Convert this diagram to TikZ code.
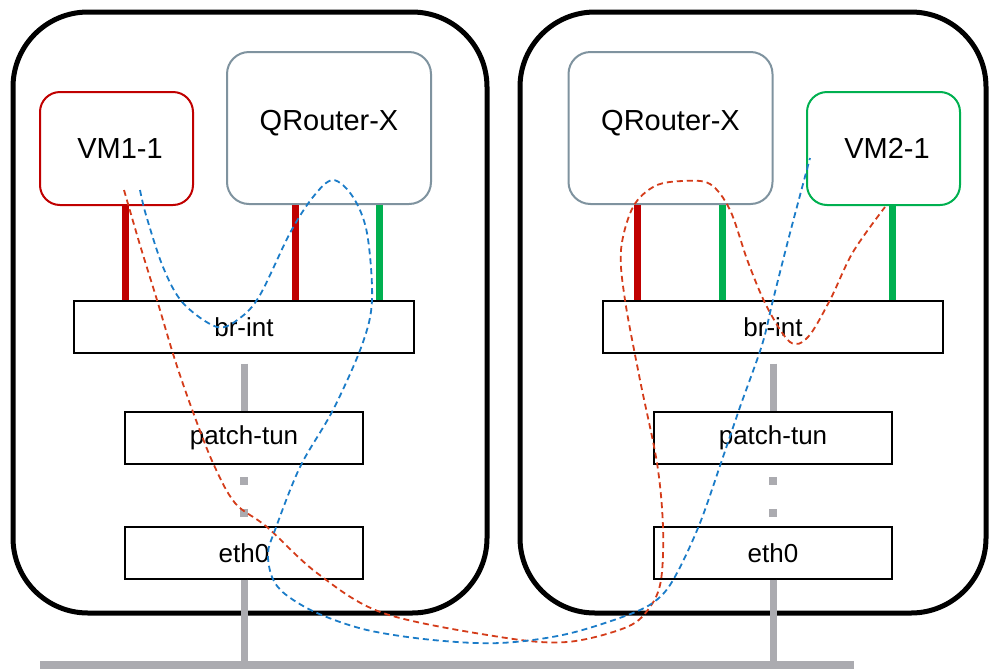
\documentclass[tikz,border=0pt]{standalone}
\usepackage{fontspec}
\setmainfont{Liberation Sans}
\begin{document}
\begin{tikzpicture}[x=1pt,y=-1pt,
  host/.style={draw=black,line width=5pt,rounded corners=75pt},
  vmbox/.style={draw,line width=2pt,rounded corners=20pt,fill=white,inner sep=0pt,
    minimum width=153pt,minimum height=113pt},
  rtbox/.style={draw=slate,line width=2pt,rounded corners=22pt,fill=white,inner sep=0pt,
    minimum width=204pt,minimum height=152pt},
  brbox/.style={draw=black,line width=1.3pt,fill=white,inner sep=0pt,
    minimum width=340pt,minimum height=52pt},
  portbox/.style={draw=black,line width=1.3pt,fill=white,inner sep=0pt,
    minimum width=238pt,minimum height=52pt},
  bigtxt/.style={font=\fontsize{29}{32}\selectfont},
  smalltxt/.style={font=\fontsize{26}{29}\selectfont},
  redbar/.style={draw=barred,line width=7pt},
  greenbar/.style={draw=bargreen,line width=7pt},
  graybar/.style={draw=wire,line width=7pt},
  dotsq/.style={fill=wire,minimum size=8pt,inner sep=0pt},
  redflow/.style={draw=flowred,line width=1.8pt,dash pattern=on 6pt off 4pt},
  blueflow/.style={draw=flowblue,line width=1.8pt,dash pattern=on 6pt off 4pt}]
\definecolor{slate}{HTML}{7F939F}
\definecolor{barred}{HTML}{C00000}
\definecolor{bargreen}{HTML}{00B050}
\definecolor{wire}{HTML}{ABABB0}
\definecolor{flowred}{HTML}{D43C1A}
\definecolor{flowblue}{HTML}{1B7CC8}
\useasboundingbox (0,0) rectangle (990,670);

% hosts
\draw[host] (13,12) rectangle (487,613);
\draw[host] (520,12) rectangle (986,613);

% shared network bus
\coordinate (busL) at (40,665);
\coordinate (busR) at (854,665);
\draw[graybar,line width=8pt] (busL) -- (busR);

% ---------- host 1 ----------
\node[vmbox,draw=barred] (vm1) at (116.5,148.5) {};
\node[bigtxt] at ([xshift=3.5pt]vm1.center) {VM1-1};
\node[rtbox] (qr1) at (329,128) {};
\node[bigtxt] at ([yshift=5pt]qr1.center) {QRouter-X};
\node[brbox] (br1) at (244,327) {};
\node[smalltxt] at (br1.center) {br-int};
\node[portbox] (pt1) at (244,438) {};
\node[smalltxt] at (pt1.center) {patch-tun};
\node[portbox] (eth1) at (244,553) {};
\node[smalltxt] at (eth1.center) {eth0};

\draw[redbar] ([xshift=8.5pt]vm1.south) -- ([xshift=8.5pt]vm1.south |- br1.north);
\draw[redbar] ([xshift=-34pt]qr1.south) -- ([xshift=-34pt]qr1.south |- br1.north);
\draw[greenbar] ([xshift=50pt]qr1.south) -- ([xshift=50pt]qr1.south |- br1.north);
\draw[graybar] ([yshift=-10pt]br1.south) -- (pt1.north);
\node[dotsq] (d1a) at (244,481) {};
\node[dotsq] (d1b) at (244,513) {};
\draw[graybar] (eth1.south) -- (eth1.south |- busL);

% ---------- host 2 ----------
\node[rtbox] (qr2) at (670.5,128) {};
\node[bigtxt] at ([yshift=5pt]qr2.center) {QRouter-X};
\node[vmbox,draw=bargreen] (vm2) at (883.5,148.5) {};
\node[bigtxt] at ([xshift=3.5pt]vm2.center) {VM2-1};
\node[brbox] (br2) at (773,327) {};
\node[smalltxt] at (br2.center) {br-int};
\node[portbox] (pt2) at (773,438) {};
\node[smalltxt] at (pt2.center) {patch-tun};
\node[portbox] (eth2) at (773,553) {};
\node[smalltxt] at (eth2.center) {eth0};

\draw[redbar] ([xshift=-33.5pt]qr2.south) -- ([xshift=-33.5pt]qr2.south |- br2.north);
\draw[greenbar] ([xshift=51.5pt]qr2.south) -- ([xshift=51.5pt]qr2.south |- br2.north);
\draw[greenbar] ([xshift=8.5pt]vm2.south) -- ([xshift=8.5pt]vm2.south |- br2.north);
\draw[graybar] ([yshift=-10pt]br2.south) -- (pt2.north);
\node[dotsq] (d2a) at (773,481) {};
\node[dotsq] (d2b) at (773,513) {};
\draw[graybar] (eth2.south) -- (eth2.south |- busL);

% ---------- traffic flows ----------
\draw[redflow] plot[smooth,tension=0.55] coordinates {
  (124,190) (140,245) (157,300) (175,360) (193,412) (213,463) (235,503)
  (267,527) (317,573) (383,613) (500,637) (567,642) (627,627) (650,607)
  (661,580) (663,527) (657,463) (640,380) (625,300) (621,250) (633,207)
  (655,186) (683,181) (710,184) (730,210) (748,262) (767,307) (790,342)
  (808,337) (830,300) (853,252) (885,207)};
\draw[blueflow] plot[smooth,tension=0.55] coordinates {
  (140,190) (146,215) (163,267) (183,303) (217,327) (240,318) (260,295)
  (290,233) (313,197) (333,180) (353,197) (367,233) (372,300) (362,345)
  (333,410) (300,467) (275,530) (268,553) (272,577) (285,594) (317,613)
  (367,630) (433,640) (500,643) (567,634) (633,613) (660,597) (677,573)
  (700,523) (723,457) (740,407) (762,345) (773,300) (790,233) (810,158)};
\end{tikzpicture}
\end{document}
